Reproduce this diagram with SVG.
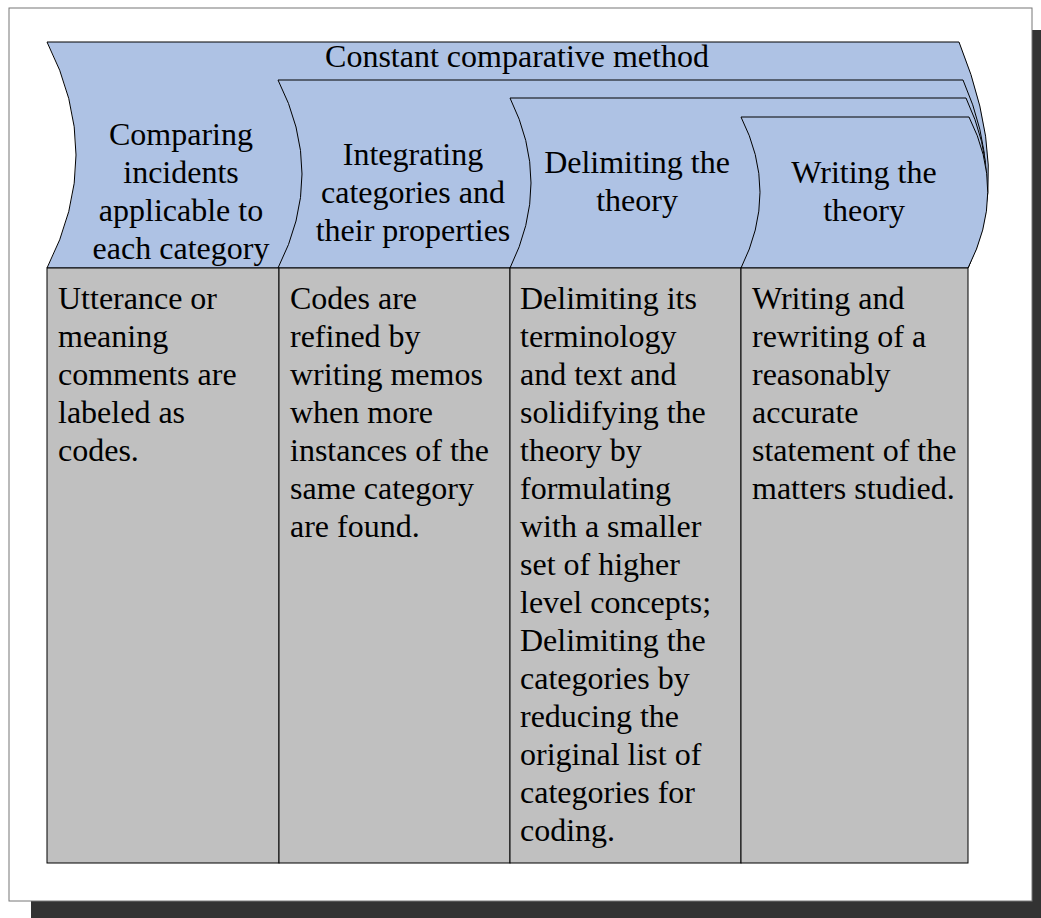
<svg xmlns="http://www.w3.org/2000/svg" width="1041" height="918" viewBox="0 0 1041 918">
<style>
.t{font-family:"Liberation Serif","Times New Roman",serif;font-size:32px;fill:#000}
.c{text-anchor:middle}
.tab{fill:#AEC2E4;stroke:#000;stroke-width:1}
.cell{fill:#C0C0C0;stroke:#000;stroke-width:1}
</style>
<rect x="31" y="30" width="1012" height="890" fill="#333333"/>
<rect x="9" y="8" width="1023" height="893" fill="#FFFFFF" stroke="#777777" stroke-width="1"/>
<g id="tab1">
<path class="tab" d="M47,42 L959,42 Q1013,175 968,268 L47,268 Q105,155 47,42 Z"/>
<text class="t c" x="517" y="67">Constant comparative method</text>
<text class="t c" x="181" y="145">Comparing</text>
<text class="t c" x="181" y="183">incidents</text>
<text class="t c" x="181" y="221">applicable to</text>
<text class="t c" x="181" y="259">each category</text>
</g>
<g id="tab2">
<path class="tab" d="M278,80 L963,80 Q1007,180 968,268 L278,268 Q326,174 278,80 Z"/>
<text class="t c" x="413" y="165">Integrating</text>
<text class="t c" x="413" y="203">categories and</text>
<text class="t c" x="413" y="241">their properties</text>
</g>
<g id="tab3">
<path class="tab" d="M510,98 L966,98 Q1007,185 968,268 L510,268 Q552,183 510,98 Z"/>
<text class="t c" x="637" y="173">Delimiting the</text>
<text class="t c" x="637" y="211">theory</text>
</g>
<g id="tab4">
<path class="tab" d="M741,117 L969,117 Q1007,192 968,268 L741,268 Q779,192 741,117 Z"/>
<text class="t c" x="864" y="183">Writing the</text>
<text class="t c" x="864" y="221">theory</text>
</g>
<g id="cell1">
<rect class="cell" x="47" y="268" width="232" height="595"/>
<text class="t" x="58" y="309">Utterance or</text>
<text class="t" x="58" y="347">meaning</text>
<text class="t" x="58" y="385">comments are</text>
<text class="t" x="58" y="423">labeled as</text>
<text class="t" x="58" y="461">codes.</text>
</g>
<g id="cell2">
<rect class="cell" x="279" y="268" width="231" height="595"/>
<text class="t" x="290" y="309">Codes are</text>
<text class="t" x="290" y="347">refined by</text>
<text class="t" x="290" y="385">writing memos</text>
<text class="t" x="290" y="423">when more</text>
<text class="t" x="290" y="461">instances of the</text>
<text class="t" x="290" y="499">same category</text>
<text class="t" x="290" y="537">are found.</text>
</g>
<g id="cell3">
<rect class="cell" x="510" y="268" width="231" height="595"/>
<text class="t" x="520" y="309">Delimiting its</text>
<text class="t" x="520" y="347">terminology</text>
<text class="t" x="520" y="385">and text and</text>
<text class="t" x="520" y="423">solidifying the</text>
<text class="t" x="520" y="461">theory by</text>
<text class="t" x="520" y="499">formulating</text>
<text class="t" x="520" y="537">with a smaller</text>
<text class="t" x="520" y="575">set of higher</text>
<text class="t" x="520" y="613">level concepts;</text>
<text class="t" x="520" y="651">Delimiting the</text>
<text class="t" x="520" y="689">categories by</text>
<text class="t" x="520" y="727">reducing the</text>
<text class="t" x="520" y="765">original list of</text>
<text class="t" x="520" y="803">categories for</text>
<text class="t" x="520" y="841">coding.</text>
</g>
<g id="cell4">
<rect class="cell" x="741" y="268" width="227" height="595"/>
<text class="t" x="752" y="309">Writing and</text>
<text class="t" x="752" y="347">rewriting of a</text>
<text class="t" x="752" y="385">reasonably</text>
<text class="t" x="752" y="423">accurate</text>
<text class="t" x="752" y="461">statement of the</text>
<text class="t" x="752" y="499">matters studied.</text>
</g>
<g id="connectors"/>
</svg>
